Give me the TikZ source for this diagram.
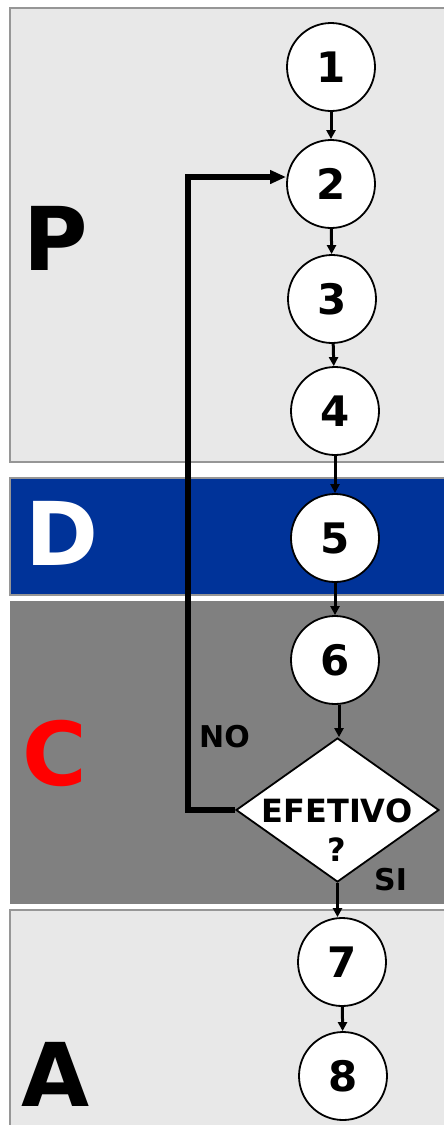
\documentclass[tikz,border=0pt]{standalone}
\usepackage{fontspec}
\setmainfont{DejaVu Sans}
\usetikzlibrary{arrows.meta,shapes.geometric}
\definecolor{bandgray}{RGB}{232,232,232}
\definecolor{bandblue}{RGB}{0,51,153}
\definecolor{bandmid}{RGB}{128,128,128}
\definecolor{bandedge}{RGB}{150,150,150}
\begin{document}
\begin{tikzpicture}[x=1pt,y=-1pt,
  band/.style={draw=bandedge,line width=1.5pt},
  stepcircle/.style={circle,draw=black,fill=white,line width=1.8pt,minimum size=88pt,inner sep=0pt,font=\fontsize{42}{42}\selectfont\bfseries},
  decision/.style={diamond,draw=black,fill=white,line width=1.8pt,minimum width=203pt,minimum height=144pt,inner sep=0pt,aspect=1.41},
  flow/.style={line width=3pt,-{Triangle[length=9pt,width=9pt]}},
  back/.style={line width=5.5pt,-{Triangle[length=16pt,width=13pt]}},
  phase/.style={font=\fontsize{88}{88}\selectfont\bfseries,anchor=base west,inner sep=0pt},
  tag/.style={font=\fontsize{30}{30}\selectfont\bfseries,anchor=base west,inner sep=0pt},
  dectext/.style={font=\fontsize{32}{32}\selectfont\bfseries,inner sep=0pt}]
\useasboundingbox (0,0) rectangle (444,1125);
% bands
\filldraw[band,fill=bandgray] (10,8) rectangle (446,462);
\filldraw[band,fill=bandblue] (10,478) rectangle (446,595);
\filldraw[band,fill=bandmid,draw=bandmid] (11,602) rectangle (446,903);
\filldraw[band,fill=bandgray] (10,910) rectangle (446,1128);
% phase letters
\node[phase] (lp) at (23,270) {P};
\node[phase,text=white] (ld) at (25,565) {D};
\node[phase,text=red] (lc) at (22,785) {C};
\node[phase] (la) at (21,1106) {A};
% steps
\node[stepcircle] (n1) at (331,67) {1};
\node[stepcircle] (n2) at (331,184) {2};
\node[stepcircle] (n3) at (332,299) {3};
\node[stepcircle] (n4) at (335,411) {4};
\node[stepcircle] (n5) at (335,538) {5};
\node[stepcircle] (n6) at (335,660) {6};
\node[decision] (dec) at (337.5,810) {};
\node[dectext] (t1) at (337,811) {EFETIVO};
\node[dectext] (t2) at (337,850) {?};
\node[stepcircle] (n7) at (342,962) {7};
\node[stepcircle] (n8) at (343,1076) {8};
\node[tag] (no) at (199,747) {NO};
\node[tag] (si) at (374,890) {SI};
% connectors
\draw[flow] (n1) -- (n2);
\draw[flow] (n2) -- (n3);
\draw[flow] (n3) -- (n4);
\draw[flow] (n4) -- (n5);
\draw[flow] (n5) -- (n6);
\draw[flow] (n6.south -| 339,0) -- (dec.north -| 339,0);
\draw[flow] (dec.south) -- (dec.south |- n7.north);
\draw[flow] (n7) -- (n8);
\coordinate (cb) at (188,810);
\coordinate (ct) at (188,177);
\draw[back] (dec.west) -- (cb) -- (ct) -- (ct -| n2.west);
\end{tikzpicture}
\end{document}
